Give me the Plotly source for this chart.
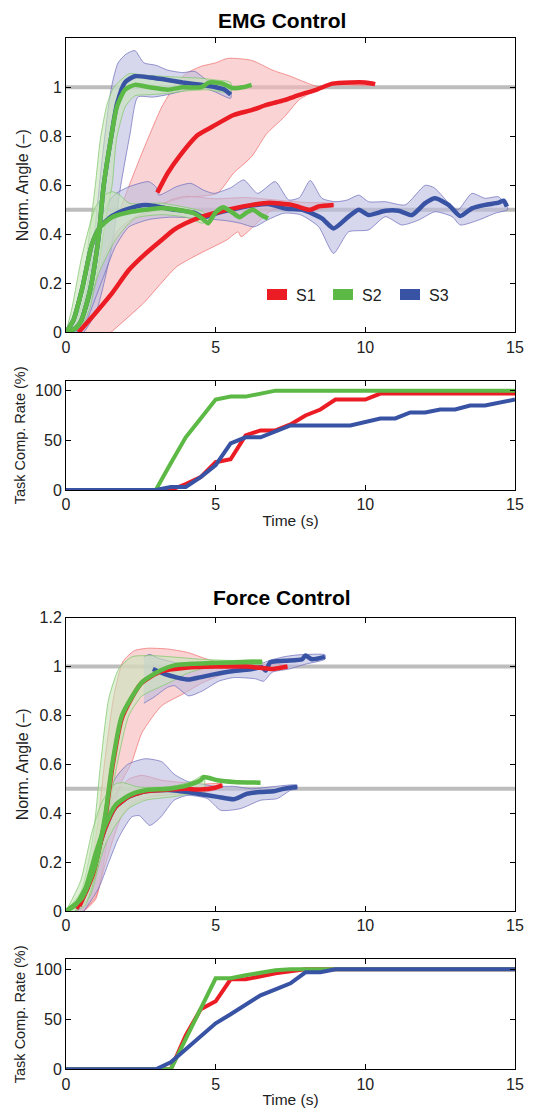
import plotly.graph_objects as go

# ---------------- EMG control: (time s, normalized angle) ----------------
# S1 (red), target 1.0
emg_s1_hi_mean = [(3.05,0.57),(3.4,0.65),(3.8,0.72),(4.4,0.805),(4.9,0.84),(5.6,0.887),(6.2,0.907),(6.7,0.928),(7.3,0.948),(7.8,0.969),(8.4,0.992),(8.9,1.015),(9.5,1.02),(10.0,1.02),(10.33,1.013)]
emg_s1_hi_up = [(1.8,0.5),(2.5,0.72),(3.2,0.92),(3.6,1.0),(4.0,1.055),(4.5,1.085),(5.0,1.10),(5.4,1.118),(6.2,1.11),(6.9,1.07),(7.5,1.045),(7.9,1.025),(8.5,1.0),(9.0,1.015),(10.3,1.02)]
emg_s1_hi_lo = [(3.0,0.52),(4.0,0.55),(5.05,0.567),(5.6,0.65),(6.2,0.717),(6.7,0.81),(7.3,0.88),(7.8,0.95),(8.5,0.995),(9.0,1.01),(10.3,1.01)]
# S1 (red), target 0.5
emg_s1_lo_mean = [(0.42,0.0),(0.98,0.078),(1.54,0.16),(2.1,0.254),(2.65,0.32),(3.2,0.377),(3.6,0.418),(4.0,0.445),(4.5,0.47),(5.06,0.49),(5.61,0.506),(6.22,0.52),(6.78,0.529),(7.55,0.52),(8.16,0.5),(8.44,0.514),(8.94,0.52)]
emg_s1_lo_up = [(0.3,0.0),(0.8,0.12),(1.31,0.32),(1.76,0.42),(2.3,0.47),(2.98,0.5),(3.5,0.54),(4.0,0.555),(5.0,0.545),(6.0,0.55),(7.0,0.54),(8.0,0.53),(8.94,0.525)]
emg_s1_lo_lo = [(1.5,0.0),(2.58,0.118),(3.7,0.268),(4.48,0.322),(5.37,0.377),(5.75,0.41),(5.85,0.39),(6.48,0.458),(6.9,0.5),(7.5,0.505),(8.3,0.5),(8.94,0.515)]
# S2 (green), target 1.0
emg_s2_hi_mean = [(0,0),(0.3,0.015),(0.5,0.045),(0.8,0.17),(1.08,0.38),(1.26,0.6),(1.5,0.79),(1.7,0.92),(1.97,0.99),(2.3,1.01),(2.8,1.0),(3.4,0.99),(3.9,1.0),(4.5,1.0),(4.8,1.02),(5.2,1.016),(5.6,0.996),(5.9,1.0),(6.2,1.01)]
emg_s2_hi_up = [(0,0),(0.3,0.06),(0.6,0.22),(0.8,0.42),(0.98,0.6),(1.15,0.79),(1.37,0.93),(1.6,1.0),(2.1,1.055),(2.6,1.05),(3.2,1.045),(4.0,1.04),(4.5,1.037),(5.0,1.03),(5.5,1.02)]
emg_s2_hi_lo = [(0.2,0),(0.5,0.02),(0.8,0.1),(1.1,0.28),(1.35,0.48),(1.54,0.6),(1.69,0.79),(1.98,0.92),(2.3,0.965),(2.8,0.97),(3.4,0.975),(4.0,0.985),(4.7,0.99),(5.5,0.98)]
# S2 (green), target 0.5
emg_s2_lo_mean = [(0,0),(0.25,0.05),(0.53,0.173),(0.87,0.36),(1.14,0.43),(1.54,0.47),(2.1,0.49),(2.65,0.5),(3.2,0.507),(3.72,0.5),(4.28,0.486),(4.6,0.46),(4.75,0.445),(5.0,0.49),(5.25,0.51),(5.55,0.49),(5.8,0.47),(6.05,0.49),(6.25,0.5),(6.5,0.48),(6.75,0.465)]
emg_s2_lo_up = [(0,0),(0.2,0.1),(0.53,0.31),(0.98,0.51),(1.3,0.56),(1.54,0.574),(1.8,0.56),(2.1,0.527),(3.2,0.527),(4.0,0.51),(4.6,0.49)]
emg_s2_lo_lo = [(0.3,0.0),(0.65,0.078),(1.09,0.24),(1.65,0.377),(2.3,0.465),(3.2,0.48),(4.0,0.47),(4.6,0.445)]
# S3 (blue), target 1.0
emg_s3_hi_mean = [(0,0),(0.3,0.015),(0.5,0.045),(0.8,0.17),(1.08,0.38),(1.26,0.6),(1.5,0.79),(1.7,0.93),(1.97,1.02),(2.3,1.045),(2.8,1.04),(3.4,1.03),(3.9,1.02),(4.5,1.01),(5.0,1.0),(5.3,0.99),(5.5,0.97)]
emg_s3_hi_up = [(0.2,0.0),(0.6,0.12),(0.9,0.35),(1.2,0.7),(1.45,0.95),(1.57,1.03),(1.74,1.1),(2.0,1.135),(2.3,1.15),(2.6,1.10),(3.0,1.09),(3.4,1.07),(3.9,1.06),(4.3,1.065),(4.7,1.03),(5.5,0.99)]
emg_s3_hi_lo = [(0.6,0.0),(1.0,0.08),(1.5,0.33),(1.83,0.6),(2.14,0.81),(2.4,0.96),(2.9,0.96),(3.4,0.97),(4.5,1.0),(5.0,0.98),(5.5,0.955)]
# S3 (blue), target 0.5
emg_s3_lo_mean = [(0,0),(0.25,0.05),(0.53,0.173),(0.87,0.36),(1.14,0.43),(1.54,0.475),(2.1,0.505),(2.65,0.52),(3.0,0.515),(3.5,0.503),(4.28,0.488),(4.6,0.47),(5.0,0.485),(5.5,0.5),(6.2,0.517),(6.8,0.523),(7.33,0.505),(7.9,0.5),(8.55,0.465),(8.94,0.424),(9.44,0.472),(9.78,0.5),(10.11,0.479),(10.67,0.496),(11.11,0.496),(11.56,0.479),(12.0,0.527),(12.33,0.547),(12.78,0.52),(13.17,0.475),(13.56,0.506),(14.01,0.52),(14.45,0.529),(14.62,0.537),(14.73,0.513)]
emg_s3_lo_up = [(0,0),(0.5,0.1),(1.0,0.35),(1.3,0.5),(1.6,0.56),(2.1,0.594),(2.76,0.615),(3.0,0.594),(3.1,0.56),(3.7,0.595),(4.17,0.608),(4.6,0.58),(4.94,0.567),(5.5,0.59),(5.94,0.622),(6.4,0.567),(6.99,0.615),(7.44,0.54),(7.8,0.55),(8.16,0.62),(8.55,0.547),(8.99,0.533),(9.4,0.54),(9.78,0.56),(10.11,0.533),(10.67,0.533),(11.33,0.52),(12.0,0.6),(12.3,0.59),(12.9,0.513),(13.1,0.5),(13.56,0.567),(14.0,0.547),(14.45,0.553),(14.75,0.51)]
emg_s3_lo_lo = [(0.3,0.0),(0.53,0.01),(1.2,0.21),(1.65,0.35),(2.1,0.43),(2.76,0.46),(3.5,0.47),(4.5,0.465),(5.39,0.455),(5.83,0.445),(6.28,0.43),(6.72,0.458),(7.28,0.486),(7.83,0.48),(8.44,0.431),(8.94,0.322),(9.44,0.41),(10.11,0.418),(10.67,0.472),(11.22,0.438),(11.78,0.458),(12.33,0.492),(12.9,0.472),(13.17,0.438),(13.78,0.458),(14.34,0.486),(14.75,0.5)]

# ---------------- Force control ----------------
frc_s1_hi_mean = [(0.45,0.02),(0.9,0.15),(1.3,0.37),(1.55,0.59),(1.87,0.79),(2.5,0.93),(3.17,0.98),(4.0,0.995),(5.0,1.0),(6.0,1.0),(6.5,0.995),(6.9,0.99),(7.4,1.0)]
frc_s1_hi_up = [(0.3,0.0),(0.7,0.1),(1.05,0.35),(1.3,0.62),(1.6,0.88),(1.9,1.02),(2.28,1.065),(2.72,1.075),(3.39,1.072),(4.06,1.058),(4.72,1.03),(5.06,1.02),(6.0,1.01),(7.4,1.005)]
frc_s1_hi_lo = [(0.6,0.0),(1.0,0.05),(1.4,0.3),(1.83,0.52),(2.2,0.61),(2.54,0.73),(3.2,0.84),(3.94,0.89),(4.5,0.93),(5.06,0.96),(5.6,0.98),(6.7,0.99),(7.4,0.995)]
frc_s1_lo_mean = [(0.35,0.01),(0.7,0.09),(1.0,0.22),(1.31,0.34),(1.65,0.425),(2.1,0.468),(2.65,0.49),(3.43,0.497),(4.0,0.5),(4.5,0.497),(4.94,0.503),(5.22,0.514)]
frc_s1_lo_up = [(0.3,0.0),(0.8,0.1),(1.2,0.3),(1.6,0.47),(2.1,0.54),(2.54,0.555),(3.2,0.535),(4.0,0.525),(4.6,0.52),(5.22,0.52)]
frc_s1_lo_lo = [(0.6,0.0),(1.0,0.06),(1.31,0.19),(1.87,0.39),(2.32,0.446),(3.0,0.47),(3.5,0.475),(4.0,0.48),(4.6,0.485),(5.22,0.505)]
frc_s2_hi_mean = [(0,0),(0.53,0.053),(0.98,0.188),(1.31,0.39),(1.54,0.596),(1.87,0.8),(2.54,0.936),(3.17,0.985),(3.62,1.005),(4.3,1.012),(4.88,1.015),(5.5,1.017),(6.55,1.02)]
frc_s2_hi_up = [(0,0),(0.5,0.08),(0.9,0.3),(1.15,0.596),(1.43,0.87),(1.76,0.99),(2.2,1.04),(2.8,1.045),(3.5,1.04),(4.5,1.03),(5.5,1.025),(6.55,1.025)]
frc_s2_hi_lo = [(0.3,0.0),(0.8,0.06),(1.2,0.25),(1.7,0.596),(2.1,0.8),(2.54,0.88),(3.2,0.92),(3.54,0.94),(4.0,0.97),(4.5,0.99),(5.0,1.0),(6.0,1.01),(6.55,1.01)]
frc_s2_lo_mean = [(0,0),(0.31,0.024),(0.65,0.093),(0.98,0.23),(1.31,0.35),(1.65,0.433),(2.1,0.473),(2.65,0.494),(3.43,0.5),(4.06,0.514),(4.5,0.535),(4.6,0.548),(5.06,0.535),(5.61,0.528),(6.5,0.525)]
frc_s2_lo_up = [(0,0),(0.48,0.12),(0.87,0.324),(1.2,0.446),(1.65,0.52),(1.9,0.525),(2.43,0.507),(3.54,0.51),(4.2,0.53),(4.6,0.555)]
frc_s2_lo_lo = [(0.3,0.0),(0.65,0.024),(0.92,0.12),(1.31,0.27),(1.65,0.35),(2.1,0.42),(2.65,0.453),(3.54,0.467),(4.2,0.48),(4.6,0.48)]
frc_s3_hi_mean = [(2.9,0.99),(3.28,0.97),(3.72,0.955),(4.1,0.947),(4.4,0.954),(4.9,0.967),(5.55,0.981),(6.22,0.99),(6.55,0.997),(6.67,0.984),(6.83,1.018),(7.33,1.024),(7.89,1.03),(8.0,1.045),(8.22,1.03),(8.65,1.04)]
frc_s3_hi_up = [(2.6,1.04),(2.8,1.05),(3.06,1.035),(3.9,1.01),(5.0,1.005),(6.5,1.012),(6.8,1.025),(7.28,1.04),(7.67,1.047),(8.1,1.05),(8.65,1.048)]
frc_s3_hi_lo = [(2.6,0.85),(2.94,0.875),(3.39,0.915),(3.62,0.922),(4.1,0.88),(4.55,0.9),(5.1,0.94),(5.6,0.955),(6.33,0.95),(6.6,0.94),(6.89,0.977),(7.45,0.99),(8.0,1.01),(8.65,1.03)]
frc_s3_lo_mean = [(0.35,0.01),(0.7,0.09),(1.0,0.22),(1.31,0.34),(1.65,0.425),(2.1,0.468),(2.65,0.49),(3.43,0.495),(3.8,0.49),(4.06,0.487),(4.5,0.478),(5.06,0.467),(5.61,0.457),(6.06,0.48),(6.5,0.487),(6.94,0.49),(7.28,0.5),(7.72,0.507)]
frc_s3_lo_up = [(0.3,0.0),(0.8,0.12),(1.2,0.33),(1.61,0.535),(2.06,0.6),(2.65,0.623),(3.21,0.61),(3.61,0.56),(4.06,0.53),(4.5,0.52),(5.0,0.51),(5.6,0.51),(6.2,0.5),(7.0,0.51),(7.72,0.515)]
frc_s3_lo_lo = [(0.6,0.0),(1.09,0.093),(1.43,0.2),(1.76,0.3),(2.2,0.385),(2.45,0.39),(2.8,0.35),(3.17,0.385),(3.61,0.453),(4.06,0.473),(4.72,0.46),(5.17,0.412),(5.83,0.419),(6.5,0.453),(7.06,0.46),(7.5,0.494),(7.72,0.5)]

# ---------------- Task completion rate (time s, %) ----------------
emg_s1_task = [(0,0),(3.5,0),(4.0,6),(4.5,13),(5.0,28),(5.5,31),(6.0,55),(6.5,60),(7.0,60),(7.5,66),(8.0,75),(8.5,81),(9.0,91),(10.0,91),(10.5,97),(15,97)]
emg_s2_task = [(0,0),(3.0,0),(3.5,27),(4.0,53),(4.5,72),(5.0,91),(5.5,94),(6.0,94),(7.0,100),(15,100)]
emg_s3_task = [(0,0),(3.0,0),(3.5,3),(4.0,3),(4.5,13),(5.0,25),(5.5,47),(6.0,53),(6.5,53),(7.0,59),(7.5,65),(9.5,65),(10.0,68),(10.5,72),(11.0,72),(11.5,78),(12.0,78),(12.5,81),(13.0,81),(13.5,85),(14.0,85),(15.0,91)]
frc_s1_task = [(0,0),(3.5,0),(4.0,34),(4.5,60),(5.0,68),(5.5,90),(6.0,90),(7.0,96),(8.0,100),(15,100)]
frc_s2_task = [(0,0),(3.5,0),(5.0,91),(5.5,91),(6.0,94),(7.0,99),(7.5,100),(15,100)]
frc_s3_task = [(0,0),(3.0,0),(3.5,7),(4.0,20),(4.5,34),(5.0,46),(5.5,55),(6.0,64),(6.5,74),(7.0,80),(7.5,86),(8.0,97),(8.5,97),(9.0,100),(15,100)]

subjects = ["S1", "S2", "S3"]
targets = [1.0, 0.5]
angle_ticks_emg = [0, 0.2, 0.4, 0.6, 0.8, 1.0]
angle_ticks_frc = [0, 0.2, 0.4, 0.6, 0.8, 1.0, 1.2]
time_ticks = [0, 5, 10, 15]
rate_ticks = [0, 50, 100]

LINE = {"S1": "#ec1c24", "S2": "#5cb946", "S3": "#3953a4"}
FILL = {"S1": "rgba(247,183,183,0.6)", "S2": "rgba(200,228,187,0.6)", "S3": "rgba(187,187,223,0.6)"}
EDGE = {"S1": "rgba(240,110,110,0.9)", "S2": "rgba(130,200,110,0.95)", "S3": "rgba(110,110,190,0.9)"}

curves = {
    "emg": {
        "S1": [(emg_s1_hi_mean, emg_s1_hi_up, emg_s1_hi_lo), (emg_s1_lo_mean, emg_s1_lo_up, emg_s1_lo_lo)],
        "S2": [(emg_s2_hi_mean, emg_s2_hi_up, emg_s2_hi_lo), (emg_s2_lo_mean, emg_s2_lo_up, emg_s2_lo_lo)],
        "S3": [(emg_s3_hi_mean, emg_s3_hi_up, emg_s3_hi_lo), (emg_s3_lo_mean, emg_s3_lo_up, emg_s3_lo_lo)],
    },
    "frc": {
        "S1": [(frc_s1_hi_mean, frc_s1_hi_up, frc_s1_hi_lo), (frc_s1_lo_mean, frc_s1_lo_up, frc_s1_lo_lo)],
        "S2": [(frc_s2_hi_mean, frc_s2_hi_up, frc_s2_hi_lo), (frc_s2_lo_mean, frc_s2_lo_up, frc_s2_lo_lo)],
        "S3": [(frc_s3_hi_mean, frc_s3_hi_up, frc_s3_hi_lo), (frc_s3_lo_mean, frc_s3_lo_up, frc_s3_lo_lo)],
    },
}
tasks = {
    "emg": {"S1": emg_s1_task, "S2": emg_s2_task, "S3": emg_s3_task},
    "frc": {"S1": frc_s1_task, "S2": frc_s2_task, "S3": frc_s3_task},
}

# The page body has an 8px default margin, so the figure is shifted by that much.
PAGE_W, PAGE_H, BODY_MARGIN = 535, 1112, 8
W, H = PAGE_W - BODY_MARGIN, PAGE_H - BODY_MARGIN
def fx(p):
    return (p - BODY_MARGIN) / W
def fy(p):
    return 1 - (p - BODY_MARGIN) / H

fig = go.Figure()
FONT = "Liberation Sans, Arial, Helvetica, sans-serif"

def add_main(cond, xa, ya):
    for tg in targets:
        fig.add_trace(go.Scatter(x=[time_ticks[0], time_ticks[-1]], y=[tg, tg], mode="lines",
                                 line=dict(color="#bdbdbd", width=4), xaxis=xa, yaxis=ya,
                                 showlegend=False, hoverinfo="skip"))
    for s in ["S1", "S3", "S2"]:
        for mean, up, lo in curves[cond][s]:
            xs = [p[0] for p in up] + [p[0] for p in reversed(lo)]
            ys = [p[1] for p in up] + [p[1] for p in reversed(lo)]
            fig.add_trace(go.Scatter(x=xs, y=ys, mode="lines", fill="toself",
                                     fillcolor=FILL[s], line=dict(color=EDGE[s], width=0.8, shape="spline", smoothing=0.6),
                                     xaxis=xa, yaxis=ya, showlegend=False, hoverinfo="skip"))
    for s in ["S3", "S1", "S2"]:
        for mean, up, lo in curves[cond][s]:
            fig.add_trace(go.Scatter(x=[p[0] for p in mean], y=[p[1] for p in mean], mode="lines",
                                     line=dict(color=LINE[s], width=4.5, shape="spline", smoothing=0.6),
                                     xaxis=xa, yaxis=ya, showlegend=False, name=s))

def add_task(cond, xa, ya):
    for s in ["S1", "S2", "S3"]:
        d = tasks[cond][s]
        fig.add_trace(go.Scatter(x=[p[0] for p in d], y=[p[1] for p in d], mode="lines",
                                 line=dict(color=LINE[s], width=4), xaxis=xa, yaxis=ya,
                                 showlegend=False, name=s))

add_main("emg", "x", "y")
add_task("emg", "x2", "y2")
add_main("frc", "x3", "y3")
add_task("frc", "x4", "y4")

xdom = [fx(66), fx(515)]
TICKFONT = dict(family=FONT, size=16, color="#222")
axis_common = dict(showline=True, linecolor="black", linewidth=1, mirror="ticks", ticks="inside",
                   ticklen=5, tickcolor="black", showgrid=False, zeroline=False, automargin=False,
                   tickfont=TICKFONT)

layout = dict(
    width=W, height=H, margin=dict(l=0, r=0, t=0, b=0, autoexpand=False),
    paper_bgcolor="white", plot_bgcolor="white", showlegend=False,
    font=dict(family=FONT, color="#222"),
)
xa_common = dict(axis_common, range=[0, 15], tickvals=time_ticks, domain=xdom)
layout["xaxis"] = dict(xa_common, anchor="y")
layout["xaxis2"] = dict(xa_common, anchor="y2",
                        title=dict(text="Time (s)", font=dict(family=FONT, size=15.5), standoff=2))
layout["xaxis3"] = dict(xa_common, anchor="y3")
layout["xaxis4"] = dict(xa_common, anchor="y4",
                        title=dict(text="Time (s)", font=dict(family=FONT, size=15.5), standoff=2))
layout["yaxis"] = dict(axis_common, range=[0, 1.2], tickvals=angle_ticks_emg, anchor="x",
                       domain=[fy(332.3), fy(38.3)],
                       title=dict(text="Norm. Angle (–)", font=dict(family=FONT, size=16), standoff=6))
layout["yaxis2"] = dict(axis_common, range=[0, 110], tickvals=rate_ticks, anchor="x2",
                        domain=[fy(490), fy(380.7)],
                        title=dict(text="Task Comp. Rate (%)", font=dict(family=FONT, size=14.5), standoff=6))
layout["yaxis3"] = dict(axis_common, range=[0, 1.2], tickvals=angle_ticks_frc, anchor="x3",
                        domain=[fy(911), fy(617.7)],
                        title=dict(text="Norm. Angle (–)", font=dict(family=FONT, size=16), standoff=6))
layout["yaxis4"] = dict(axis_common, range=[0, 110], tickvals=rate_ticks, anchor="x4",
                        domain=[fy(1069.3), fy(959.3)],
                        title=dict(text="Task Comp. Rate (%)", font=dict(family=FONT, size=14.5), standoff=6))

annotations = [
    dict(text="<b>EMG Control</b>", x=fx(282), y=fy(8.5), xref="paper", yref="paper", borderpad=0,
         showarrow=False, font=dict(family=FONT, size=21, color="black"), xanchor="center", yanchor="top"),
    dict(text="<b>Force Control</b>", x=fx(282), y=fy(597), xref="paper", yref="paper",
         showarrow=False, font=dict(family=FONT, size=21, color="black"), xanchor="center", yanchor="middle"),
]
shapes = []
legend_x = {"S1": 267, "S2": 333, "S3": 400}
for s in subjects:
    x0 = legend_x[s]
    shapes.append(dict(type="rect", xref="paper", yref="paper", x0=fx(x0), x1=fx(x0 + 20),
                       y0=fy(300), y1=fy(289), fillcolor=LINE[s], line=dict(width=0)))
    annotations.append(dict(text=s, x=fx(x0 + 27), y=fy(295), xref="paper", yref="paper",
                            showarrow=False, xanchor="left", yanchor="middle",
                            font=dict(family=FONT, size=16, color="#222")))
layout["annotations"] = annotations
layout["shapes"] = shapes
fig.update_layout(**layout)
fig.write_html("out.html")
